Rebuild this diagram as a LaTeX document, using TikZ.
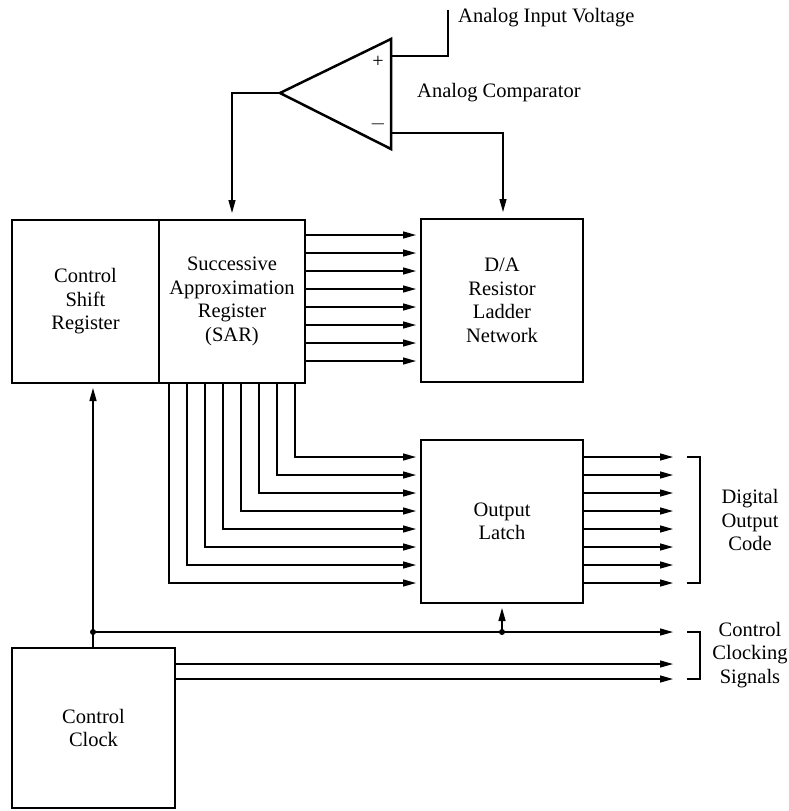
\documentclass[tikz,border=0pt]{standalone}
\usepackage{fontspec}
\setmainfont{Liberation Serif}
\usetikzlibrary{arrows.meta,calc}
\begin{document}
\begin{tikzpicture}[x=1pt,y=-1pt,
  box/.style={draw,line width=2.8pt,inner sep=0pt,outer sep=0pt,align=center},
  wire/.style={line width=1.3pt},
  arr/.style={wire,-{Triangle[length=13pt,width=7pt]}},
  lbl/.style={align=center,inner sep=0pt},
  every node/.append style={font=\fontsize{20.5}{23.5}\selectfont}]
\useasboundingbox (0,0) rectangle (789,811);
% boxes
\node[box,minimum width=147pt,minimum height=163pt] (csr) at (85.5,301.5) {Control\\Shift\\Register};
\node[box,minimum width=146pt,minimum height=163pt] (sar) at (232,301.5) {Successive\\Approximation\\Register\\(SAR)};
\node[box,minimum width=162pt,minimum height=163pt] (da) at (502,300.5) {D/A\\Resistor\\Ladder\\Network};
\node[box,minimum width=162pt,minimum height=163pt] (latch) at (502,521.5) {Output\\Latch};
\node[box,minimum width=163pt,minimum height=160pt] (clock) at (93.5,728) {Control\\Clock};
% comparator
\coordinate (ctop) at (391,39);
\coordinate (cbot) at (391,149);
\coordinate (cout) at (280,93);
\draw[line width=2.5pt,line join=miter] (ctop) -- (cbot) -- (cout) -- cycle;
\coordinate (cplus) at (391,56);
\coordinate (cminus) at (391,133);
\node[lbl] (plus) at (378,62) {\fontsize{20}{20}\selectfont +};
\node[lbl] (minus) at (378,124) {\fontsize{20}{20}\selectfont $-$};
\coordinate (vin) at (448,10);
\draw[wire] (cplus) -- (vin |- cplus) -- (vin);
\node[lbl,anchor=west] (vinl) at (458,18) {Analog Input Voltage};
\node[lbl,anchor=west] (compl) at (417,93) {Analog Comparator};
\coordinate (mx) at (503,133);
\draw[arr,shorten >=7pt] (cminus) -- (mx) -- (mx |- da.north);
\coordinate (ox) at (232,93);
\draw[arr,shorten >=7pt] (cout) -- (ox) -- (ox |- sar.north);
% SAR -> D/A
\foreach \i in {0,...,7} {
  \pgfmathsetmacro\yy{235+18*\i}
  \draw[arr,shorten >=5pt] (sar.east |- 0,\yy) -- (da.west |- 0,\yy);
}
% SAR -> latch
\foreach \i in {0,...,7} {
  \pgfmathsetmacro\xx{169+18*\i}
  \pgfmathsetmacro\yy{583-18*\i}
  \draw[arr,shorten >=5pt] (\xx,383) -- (\xx,\yy) -- (latch.west |- 0,\yy);
}
% latch outputs
\coordinate (dout) at (673,457);
\foreach \i in {0,...,7} {
  \pgfmathsetmacro\yy{457+18*\i}
  \draw[arr] (latch.east |- 0,\yy) -- (dout |- 0,\yy);
}
\draw[line width=1.1pt] (687,457) -- (700,457) -- (700,583) -- (687,583);
\node[lbl] (docl) at (750,520) {Digital\\Output\\Code};
% clock
\coordinate (j1) at (93,632);
\coordinate (j2) at (502,632);
\draw[arr,shorten >=5pt] (j1 |- clock.north) -- (j1 |- csr.south);
\draw[arr] (j1) -- (dout |- j1);
\fill (j1) circle (3pt) (j2) circle (3pt);
\draw[arr,shorten >=5pt] (j2) -- (latch.south);
\draw[arr] (clock.east |- 0,664) -- (dout |- 0,664);
\draw[arr] (clock.east |- 0,679) -- (dout |- 0,679);
\draw[line width=1.1pt] (687,632) -- (700,632) -- (700,679) -- (687,679);
\node[lbl] (ccsl) at (750,655) {Control\\Clocking\\Signals};
\end{tikzpicture}
\end{document}
